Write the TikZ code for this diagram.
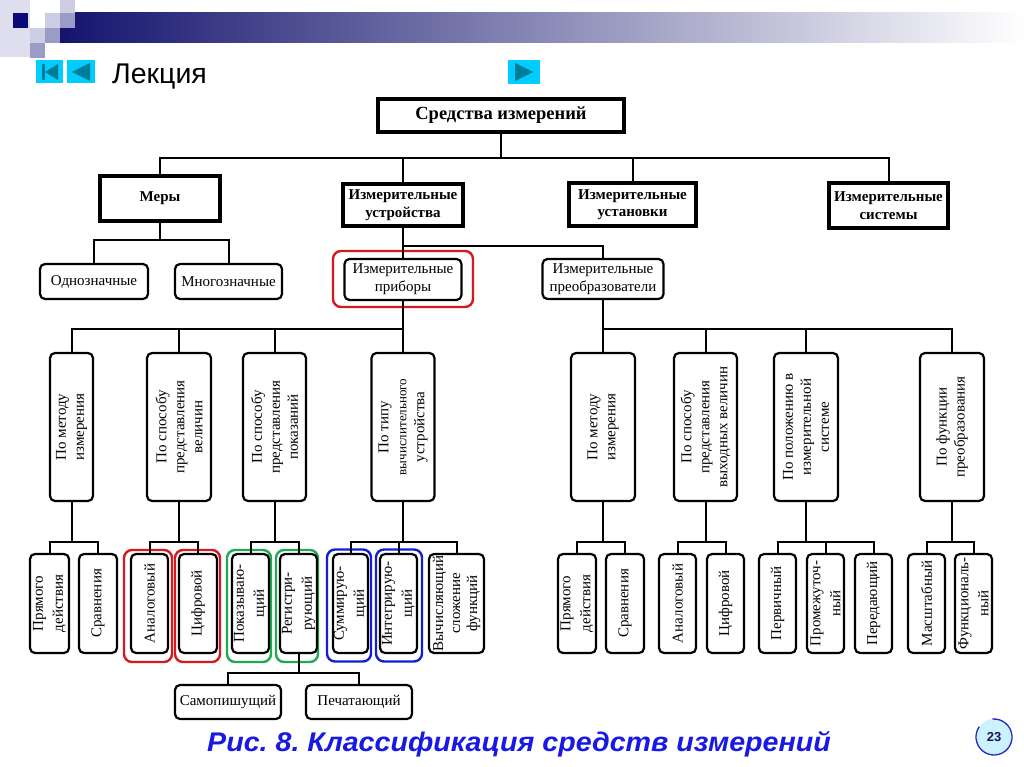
\documentclass[tikz,border=0pt]{standalone}
\usepackage{fontspec}
\setmainfont{Liberation Serif}
\newfontfamily\arialf{Liberation Sans}
\definecolor{navy}{RGB}{20,20,110}
\definecolor{barmid}{RGB}{175,175,200}
\definecolor{palel}{RGB}{222,222,238}
\definecolor{lightl}{RGB}{205,205,228}
\definecolor{medl}{RGB}{155,155,200}
\definecolor{darksq}{RGB}{10,10,120}
\definecolor{btn}{RGB}{0,204,255}
\definecolor{arrowc}{RGB}{0,125,150}
\definecolor{capblue}{RGB}{25,25,230}
\definecolor{hlred}{RGB}{215,25,30}
\definecolor{hlgreen}{RGB}{30,170,80}
\definecolor{hlblue}{RGB}{20,30,210}
\definecolor{badgefill}{RGB}{205,242,255}
\definecolor{badgeline}{RGB}{40,40,200}
\definecolor{badgetext}{RGB}{20,20,90}
\begin{document}
\frenchspacing
\begin{tikzpicture}[x=1pt,y=-1pt,
  conn/.style={draw=black, line width=2pt},
  rootbox/.style={draw, fill=white, line width=4pt, inner sep=0pt, align=center,
    font=\bfseries\fontsize{18.5}{21}\selectfont},
  topbox/.style={draw, fill=white, line width=3.5pt, inner sep=0pt, align=center,
    font=\bfseries\fontsize{15}{17.5}\selectfont},
  rbox/.style={draw, fill=white, line width=2.2pt, rounded corners=5pt, inner sep=0pt,
    align=center, font=\fontsize{15}{18}\selectfont},
  vbox/.style={rbox, rotate=90, minimum width=148, font=\fontsize{15}{18}\selectfont},
  leaf/.style={rbox, rotate=90, minimum width=99, font=\fontsize{15}{20}\selectfont},
  hl/.style={draw=#1, line width=2.4pt, rounded corners=8pt, inner sep=0pt}
]
\useasboundingbox (0,0) rectangle (1024,767);
\fill[white] (0,0) rectangle (1024,767);

% header decoration
\shade[left color=navy, middle color=barmid, right color=white] (60,13) rectangle (1024,43);
\fill[palel] (0,0) rectangle (30,57);
\fill[lightl] (60,0) rectangle (75,13);
\fill[darksq] (13,13) rectangle (28,28);
\fill[lightl] (45,13) rectangle (60,28);
\fill[medl] (60,13) rectangle (75,28);
\fill[lightl] (30,28) rectangle (45,43);
\fill[medl] (45,28) rectangle (60,43);
\fill[medl] (30,43) rectangle (45,58);

% navigation buttons
\fill[btn] (36,60) rectangle (63,83);
\fill[arrowc] (42,64) rectangle (44.5,80);
\fill[arrowc] (45,72) -- (58,64) -- (58,80) -- cycle;
\fill[btn] (67,60) rectangle (95,83);
\fill[arrowc] (72,72) -- (90,63) -- (90,81) -- cycle;
\fill[btn] (508,60) rectangle (540,84);
\fill[arrowc] (533,72) -- (515,63) -- (515,81) -- cycle;
\node[font=\arialf\fontsize{28.5}{31}\selectfont, anchor=base west, inner sep=0pt] (lect) at (112,84) {Лекция};

% highlights
\node[hl=hlred, minimum width=140, minimum height=56] (hprib) at (403,279) {};
\node[hl=hlred, minimum width=48, minimum height=112] (hb1) at (148,606) {};
\node[hl=hlred, minimum width=45, minimum height=112] (hb2) at (197.5,606) {};
\node[hl=hlgreen, minimum width=44, minimum height=112] (hc1) at (249,606) {};
\node[hl=hlgreen, minimum width=42, minimum height=112] (hc2) at (297,606) {};
\node[hl=hlblue, minimum width=44, minimum height=112] (hd1) at (349,605.5) {};
\node[hl=hlblue, minimum width=46, minimum height=112] (hd2) at (399,605.5) {};

% levels 0-2
\node[rootbox, minimum width=246, minimum height=33] (root) at (501,115.5) {Средства измерений};
\node[topbox, minimum width=120, minimum height=45] (mery) at (160,198.5) {Меры};
\node[topbox, minimum width=120, minimum height=42] (ustr) at (403,205) {Измерительные\\устройства};
\node[topbox, minimum width=127, minimum height=43] (ustan) at (632.5,204.5) {Измерительные\\установки};
\node[topbox, minimum width=119, minimum height=45] (sist) at (888.5,205.5) {Измерительные\\системы};
\node[rbox, minimum width=108, minimum height=35] (odn) at (94,281.5) {Однозначные};
\node[rbox, minimum width=107, minimum height=35] (mnog) at (228.5,281.5) {Многозначные};
\node[rbox, minimum width=117, minimum height=41] (prib) at (403,279.5) {Измерительные\\приборы};
\node[rbox, minimum width=121, minimum height=40] (preob) at (603,279) {Измерительные\\преобразователи};

% level 3
\node[vbox, minimum height=43] (pm1) at (71.5,427) {По методу\\измерения};
\node[vbox, minimum height=64] (ps1) at (179,427) {По способу\\представления\\величин};
\node[vbox, minimum height=63] (ps2) at (274.5,427) {По способу\\представления\\показаний};
\node[vbox, minimum height=63] (pt) at (403,427) {По типу\\{\fontsize{13}{18}\selectfont вычислительного}\\устройства};
\node[vbox, minimum height=64] (pm2) at (603,427) {По методу\\измерения};
\node[vbox, minimum height=63] (pv) at (705.5,427) {По способу\\представления\\выходных величин};
\node[vbox, minimum height=64] (pp) at (806,427) {По положению в\\измерительной\\системе};
\node[vbox, minimum height=64] (pf) at (952,427) {По функции\\преобразования};

% leaves
\node[leaf, minimum height=39] (a1) at (49.5,603.5) {Прямого\\действия};
\node[leaf, minimum height=38] (a2) at (98,603.5) {Сравнения};
\node[leaf, minimum height=37] (b1) at (149.5,603.5) {Аналоговый};
\node[leaf, minimum height=38] (b2) at (198,603.5) {Цифровой};
\node[leaf, minimum height=37] (c1) at (250.5,603.5) {Показываю-\\щий};
\node[leaf, minimum height=37] (c2) at (298.5,603.5) {Регистри-\\рующий};
\node[leaf, minimum height=35] (d1) at (350.5,603.5) {Суммирую-\\щий};
\node[leaf, minimum height=37] (d2) at (398.5,603.5) {Интегрирую-\\щий};
\node[leaf, minimum height=55, font=\fontsize{15}{17}\selectfont] (d3) at (456.5,603.5) {Вычисляющий\\сложение\\функций};
\node[leaf, minimum height=38] (e1) at (577,603.5) {Прямого\\действия};
\node[leaf, minimum height=38] (e2) at (625,603.5) {Сравнения};
\node[leaf, minimum height=37] (f1) at (677.5,603.5) {Аналоговый};
\node[leaf, minimum height=37] (f2) at (725.5,603.5) {Цифровой};
\node[leaf, minimum height=37] (g1) at (777.5,603.5) {Первичный};
\node[leaf, minimum height=37] (g2) at (825.5,603.5) {Промежуточ-\\ный};
\node[leaf, minimum height=37] (g3) at (873.5,603.5) {Передающий};
\node[leaf, minimum height=37] (h1) at (926.5,603.5) {Масштабный};
\node[leaf, minimum height=37] (h2) at (973.5,603.5) {Функциональ-\\ный};
\node[rbox, minimum width=106, minimum height=34] (sam) at (228,702) {Самопишущий};
\node[rbox, minimum width=106, minimum height=34] (pech) at (359,702) {Печатающий};

% bus levels
\coordinate (bA) at (0,158);
\coordinate (bM) at (0,240);
\coordinate (bU) at (0,246);
\coordinate (bP) at (0,329);
\coordinate (bL) at (0,542);
\coordinate (bR) at (0,673);

% connectors
\draw[conn] (root.south) -- (root.south |- bA);
\draw[conn] (mery.north) |- (sist.north |- bA) -- (sist.north);
\draw[conn] (ustr.north) -- (ustr.north |- bA);
\draw[conn] (ustan.north) -- (ustan.north |- bA);

\draw[conn] (mery.south) -- (mery.south |- bM);
\draw[conn] (odn.north) |- (mnog.north |- bM) -- (mnog.north);

\draw[conn] (ustr.south) -- (prib.north);
\draw[conn] (prib.north |- bU) -| (preob.north);

\draw[conn] (prib.south) -- (pt.east);
\draw[conn] (pm1.east) |- (pt.east |- bP);
\draw[conn] (ps1.east) -- (ps1.east |- bP);
\draw[conn] (ps2.east) -- (ps2.east |- bP);

\draw[conn] (preob.south) -- (pm2.east);
\draw[conn] (pm2.east |- bP) -| (pf.east);
\draw[conn] (pv.east) -- (pv.east |- bP);
\draw[conn] (pp.east) -- (pp.east |- bP);

\draw[conn] (pm1.west) -- (pm1.west |- bL);
\draw[conn] (a1.east) |- (a2.east |- bL) -- (a2.east);
\draw[conn] (ps1.west) -- (ps1.west |- bL);
\draw[conn] (b1.east) |- (b2.east |- bL) -- (b2.east);
\draw[conn] (ps2.west) -- (ps2.west |- bL);
\draw[conn] (c1.east) |- (c2.east |- bL) -- (c2.east);
\draw[conn] (pt.west) -- (pt.west |- bL);
\draw[conn] (d1.east) |- (d3.east |- bL) -- (d3.east);
\draw[conn] (d2.east) -- (d2.east |- bL);

\draw[conn] (pm2.west) -- (pm2.west |- bL);
\draw[conn] (e1.east) |- (e2.east |- bL) -- (e2.east);
\draw[conn] (pv.west) -- (pv.west |- bL);
\draw[conn] (f1.east) |- (f2.east |- bL) -- (f2.east);
\draw[conn] (pp.west) -- (pp.west |- bL);
\draw[conn] (g1.east) |- (g3.east |- bL) -- (g3.east);
\draw[conn] (g2.east) -- (g2.east |- bL);
\draw[conn] (pf.west) -- (pf.west |- bL);
\draw[conn] (h1.east) |- (h2.east |- bL) -- (h2.east);

\draw[conn] (c2.west) -- (c2.west |- bR);
\draw[conn] (sam.north) |- (pech.north |- bR) -- (pech.north);

% caption and page badge
\node[font=\arialf\bfseries\itshape\fontsize{27}{30}\selectfont, text=capblue, anchor=base west, inner sep=0pt, xscale=1.06] (cap) at (207,751) {Рис. 8. Классификация средств измерений};
\node[circle, fill=badgefill, minimum size=36, inner sep=0pt, text=badgetext,
  font=\arialf\bfseries\fontsize{13}{15}\selectfont] (badge) at (994,737) {23};
\draw[draw=badgeline, line width=1.3pt] ([shift={(265:18)}]badge.center) arc[start angle=265, end angle=575, radius=18];
\end{tikzpicture}
\end{document}
